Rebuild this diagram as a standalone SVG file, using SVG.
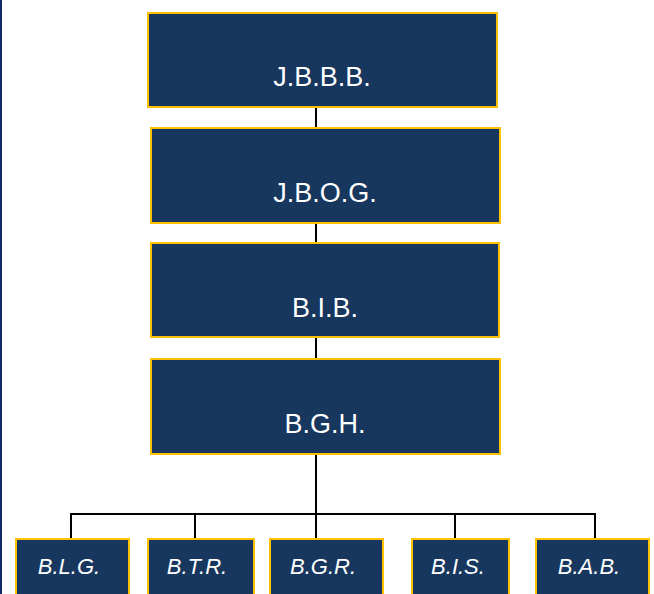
<svg xmlns="http://www.w3.org/2000/svg" width="654" height="594" viewBox="0 0 654 594">
<style>
.box{fill:#17375E;stroke:#FFC000;stroke-width:2}
.t{fill:#FFFFFF;font-family:"Liberation Sans","DejaVu Sans",sans-serif;font-size:27px;text-anchor:middle}
.c{font-style:italic;font-size:22px}
.ln{stroke:#000000;stroke-width:2;fill:none}
</style>
<rect x="0" y="0" width="654" height="594" fill="#FFFFFF"/>
<rect x="0" y="0" width="2" height="594" fill="#0F2A66"/>
<g id="connectors">
<line class="ln" x1="316" y1="107" x2="316" y2="128"/>
<line class="ln" x1="316" y1="223" x2="316" y2="243"/>
<line class="ln" x1="316" y1="337" x2="316" y2="359"/>
<line class="ln" x1="316" y1="454" x2="316" y2="539"/>
<polyline class="ln" points="71,539 71,514 595,514 595,539"/>
<line class="ln" x1="195" y1="514" x2="195" y2="539"/>
<line class="ln" x1="455" y1="514" x2="455" y2="539"/>
</g>
<g id="n1"><rect class="box" x="148" y="13" width="349" height="94"/><text class="t" x="322" y="86">J.B.B.B.</text></g>
<g id="n2"><rect class="box" x="151" y="128" width="349" height="95"/><text class="t" x="325" y="202">J.B.O.G.</text></g>
<g id="n3"><rect class="box" x="151" y="243" width="348" height="94"/><text class="t" x="325" y="317">B.I.B.</text></g>
<g id="n4"><rect class="box" x="151" y="359" width="349" height="95"/><text class="t" x="325" y="433">B.G.H.</text></g>
<g id="n5"><rect class="box" x="16" y="539" width="113" height="60"/><text class="t c" x="69" y="574">B.L.G.</text></g>
<g id="n6"><rect class="box" x="148" y="539" width="106" height="60"/><text class="t c" x="197" y="574">B.T.R.</text></g>
<g id="n7"><rect class="box" x="270" y="539" width="113" height="60"/><text class="t c" x="323" y="574">B.G.R.</text></g>
<g id="n8"><rect class="box" x="412" y="539" width="97" height="60"/><text class="t c" x="458" y="574">B.I.S.</text></g>
<g id="n9"><rect class="box" x="536" y="539" width="113" height="60"/><text class="t c" x="589" y="574">B.A.B.</text></g>
</svg>
